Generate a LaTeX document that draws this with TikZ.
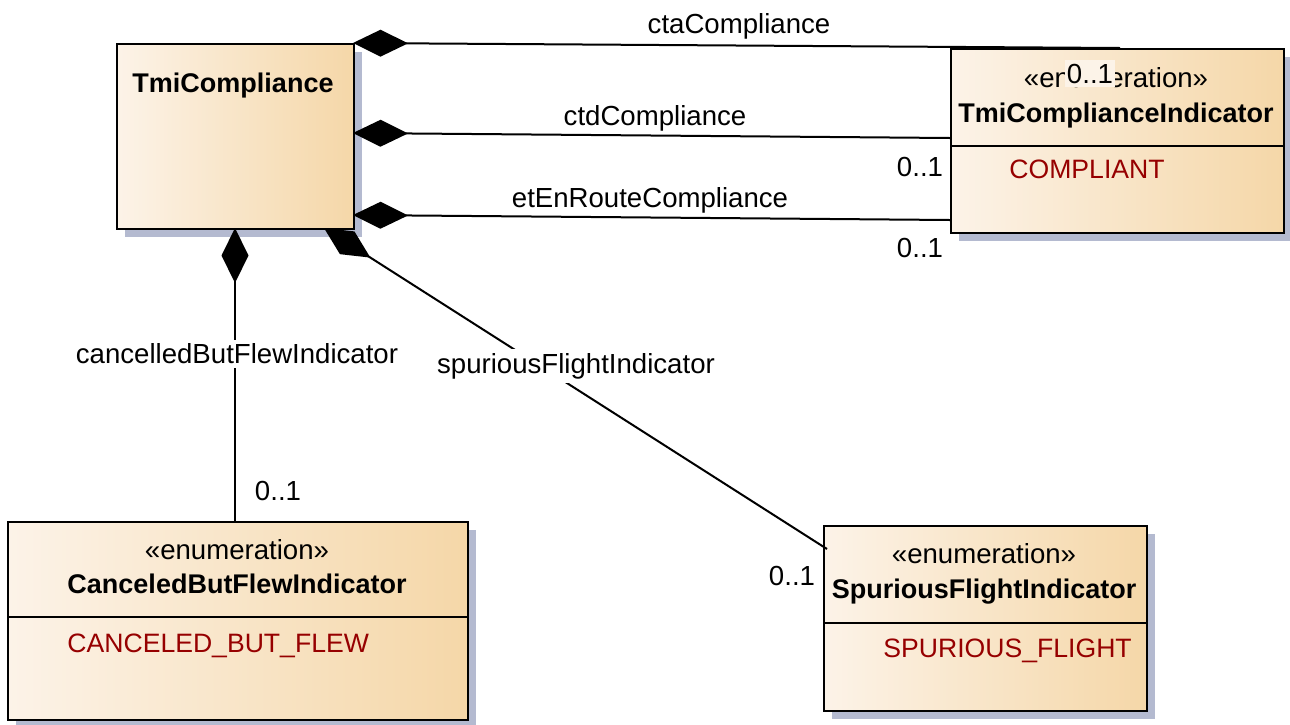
\documentclass[tikz,border=0pt]{standalone}
\usepackage{fontspec}
\setmainfont{Liberation Sans}
\usetikzlibrary{arrows.meta,shadows,calc}

\definecolor{boxleft}{RGB}{252,243,232}
\definecolor{boxright}{RGB}{245,215,168}
\definecolor{shadowblue}{RGB}{180,186,208}
\definecolor{literalred}{RGB}{150,0,0}

\begin{document}
\begin{tikzpicture}[x=0.5pt, y=-0.5pt,
    classbox/.style={draw=black, line width=1pt, anchor=north west, inner sep=0pt,
      left color=boxleft, right color=boxright,
      drop shadow={shadow xshift=4pt, shadow yshift=-4pt, fill=shadowblue, opacity=1}},
    plaintext/.style={inner sep=0pt, font=\fontsize{13.8}{16}\selectfont},
    classname/.style={inner sep=0pt, anchor=base, font=\fontsize{13.5}{16}\selectfont\bfseries},
    literal/.style={inner sep=0pt, anchor=base west, text=literalred, font=\fontsize{13.3}{16}\selectfont},
    rolelabel/.style={plaintext, anchor=base},
    composition/.style={line width=1pt, {Diamond[length=27.5pt, width=13.5pt]}-}]
    \def \px {0.5pt};

    \useasboundingbox (0,0) rectangle (1290,724);

    % classes
    \node[classbox, minimum width=237*\px, minimum height=185*\px] (tmiCompliance) at (116,43) {};
    \node[classname] (tmiComplianceName) at (233,92) {TmiCompliance};

    \node[classbox, minimum width=333*\px, minimum height=184*\px] (indicatorBox) at (950,48) {};
    \draw[line width=0.8pt] (950,146) -- (1283,146);
    \node[plaintext, anchor=base] (indicatorStereo) at (1116,87) {«enumeration»};
    \node[classname] (indicatorName) at (1116,122) {TmiComplianceIndicator};
    \node[literal] (compliantLiteral) at (1009,178) {COMPLIANT};

    \node[classbox, minimum width=460*\px, minimum height=198*\px] (canceledBox) at (7,521) {};
    \draw[line width=0.8pt] (7,617) -- (467,617);
    \node[plaintext, anchor=base] (canceledStereo) at (237,559) {«enumeration»};
    \node[classname] (canceledName) at (237,593) {CanceledButFlewIndicator};
    \node[literal] (canceledLiteral) at (67,652) {CANCELED\_BUT\_FLEW};

    \node[classbox, minimum width=323*\px, minimum height=185*\px] (spuriousBox) at (823,525) {};
    \draw[line width=0.8pt] (823,623) -- (1146,623);
    \node[plaintext, anchor=base] (spuriousStereo) at (984,563) {«enumeration»};
    \node[classname] (spuriousName) at (984,598) {SpuriousFlightIndicator};
    \node[literal] (spuriousLiteral) at (883,657) {SPURIOUS\_FLIGHT};

    % compositions to TmiComplianceIndicator
    \foreach \role/\yFrom/\xTo/\yTo/\xLabel/\yLabel/\xMult/\yMult/\multFill in {
      ctaCompliance/43/1120/48/739/33/1090/83/boxleft,
      ctdCompliance/133/950/138/655/125/920/176/white,
      etEnRouteCompliance/215/950/220/650/207/920/257/white} {
      \coordinate (\role_from) at (353,\yFrom);
      \coordinate (\role_to) at (\xTo,\yTo);
      \draw[composition] (\role_from) -- (\role_to);
      \node[rolelabel] (\role_label) at (\xLabel,\yLabel) {\role};
      \node[rolelabel, fill=\multFill, inner xsep=1pt, inner ysep=2pt] (\role_mult) at (\xMult,\yMult) {0..1};
    }

    % compositions downwards
    \coordinate (cancelled_from) at (235,228);
    \coordinate (cancelled_to) at (235,521);
    \draw[composition] (cancelled_from) -- (cancelled_to);
    \node[plaintext, fill=white, inner sep=2pt] (cancelledLabel) at (237,354) {cancelledButFlewIndicator};
    \node[rolelabel] (cancelledMult) at (278,500) {0..1};

    \coordinate (spurious_from) at (324,228);
    \coordinate (spurious_to) at (827,549);
    \draw[composition] (spurious_from) -- (spurious_to);
    \node[plaintext, fill=white, inner sep=2pt] (spuriousLabel) at (576,366) {spuriousFlightIndicator};
    \node[rolelabel] (spuriousMult) at (792,585) {0..1};
  \end{tikzpicture}
\end{document}
